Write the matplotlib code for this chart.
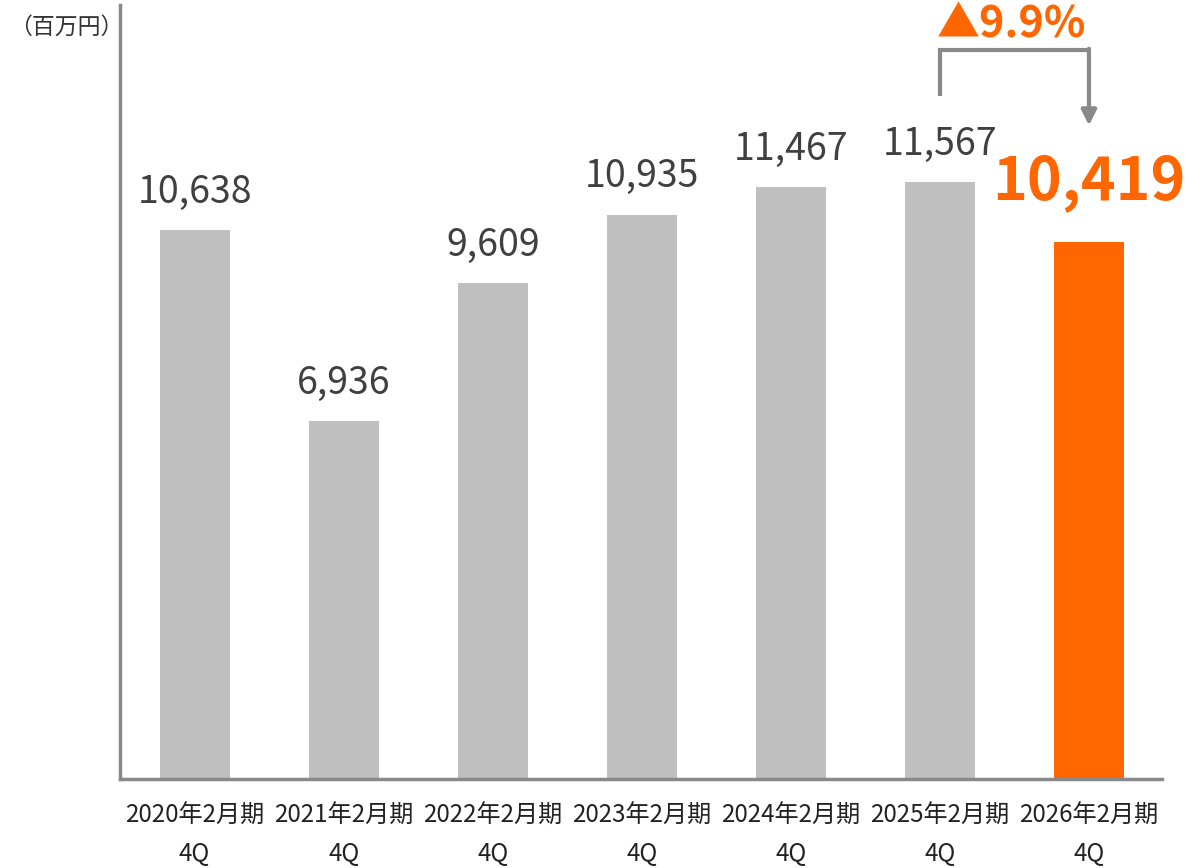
import matplotlib.pyplot as plt

plt.rcParams['font.family'] = ['Noto Sans CJK JP', 'DejaVu Sans']

periods = ['2020年2月期', '2021年2月期', '2022年2月期', '2023年2月期',
           '2024年2月期', '2025年2月期', '2026年2月期']
quarter = '4Q'
values = [10638, 6936, 9609, 10935, 11467, 11567, 10419]
change_label = '▲9.9%'

gray = '#BFBFBF'
orange = '#FF6600'
axis_gray = '#898989'

fig = plt.figure(figsize=(11.85, 8.68), dpi=100)
ax = fig.add_axes([0.1013, 0.1025, 0.8793, 0.8915])

x = list(range(len(values)))
colors = [gray] * (len(values) - 1) + [orange]
ax.bar(x, values, width=0.47, color=colors, zorder=2)

for i, v in enumerate(values[:-1]):
    ax.annotate(f'{v:,}', (i, v), xytext=(0, 20), textcoords='offset points',
                ha='center', va='baseline', fontsize=27, color='#404040')
ax.annotate(f'{values[-1]:,}', (x[-1], values[-1]), xytext=(0, 30),
            textcoords='offset points', ha='center', va='baseline',
            fontsize=42.5, fontweight='bold', color=orange)

# bracket arrow from previous year to current year
y_start = values[-2] + 1670
y_top = values[-2] + 2560
y_end = values[-1] + 2250
ax.plot([x[-2], x[-2], x[-1]], [y_start, y_top, y_top], color=axis_gray, lw=3,
        solid_capstyle='butt', solid_joinstyle='miter', clip_on=False)
ax.annotate('', xy=(x[-1], y_end), xytext=(x[-1], y_top + 30),
            arrowprops=dict(arrowstyle='-|>,head_length=0.9,head_width=0.45',
                            color=axis_gray, lw=3, shrinkA=0, shrinkB=0),
            annotation_clip=False)
ax.text((x[-2] + x[-1]) / 2 - 0.02, y_top + 250, change_label, ha='center',
        va='baseline', fontsize=31, fontweight='bold', color=orange, clip_on=False)

ax.set_xlim(-0.5, 6.49)
ax.set_ylim(0, 15000)
ax.set_xticks(x)
ax.set_xticklabels([f'{p}\n{quarter}' for p in periods], fontsize=17.4,
                   color='#222222', linespacing=1.6)
ax.tick_params(axis='x', length=0, pad=17)
ax.set_yticks([])
for s in ['top', 'right']:
    ax.spines[s].set_visible(False)
for s in ['left', 'bottom']:
    ax.spines[s].set_color(axis_gray)
    ax.spines[s].set_linewidth(2.5)

fig.text(0.008, 0.968, '（百万円）', fontsize=16.5, color='#333333', va='center')

fig.savefig('out.png', dpi=100)
